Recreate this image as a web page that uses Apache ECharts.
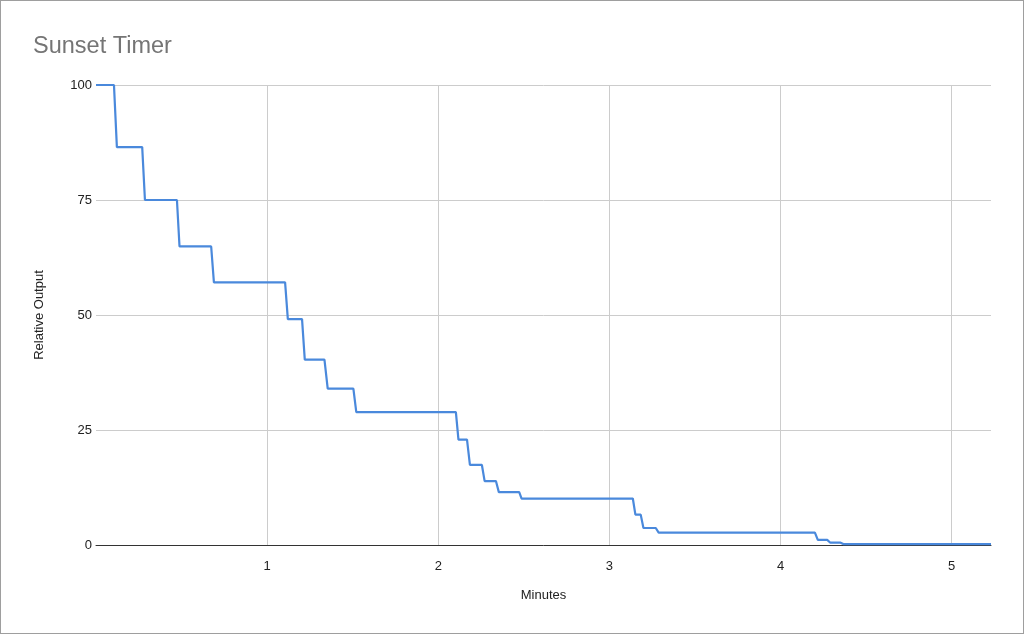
<!DOCTYPE html>
<html>
<head>
<meta charset="utf-8">
<script src="https://cdn.jsdelivr.net/npm/echarts@6/dist/echarts.min.js"></script>
<style>
html,body{margin:0;padding:0;background:#fff;}
#wrap{width:1024px;height:634px;box-sizing:border-box;border:1px solid #9e9e9e;position:relative;overflow:hidden;}
#chart{position:absolute;left:-1px;top:-1px;width:1024px;height:634px;}
</style>
</head>
<body>
<div id="wrap"><div id="chart"></div></div>
<script>
const minutes = [0, 0.105, 0.122, 0.270, 0.286, 0.473, 0.488, 0.673, 0.689, 1.105, 1.121, 1.204, 1.220, 1.335, 1.354, 1.504, 1.521, 2.103, 2.118, 2.168, 2.185, 2.255, 2.271, 2.337, 2.354, 2.473, 2.487, 3.137, 3.152, 3.183, 3.199, 3.271, 3.288, 4.201, 4.218, 4.273, 4.291, 4.351, 4.367, 5.23];
const relativeOutput = [100, 100, 86.5, 86.5, 75, 75, 64.9, 64.9, 57.1, 57.1, 49.1, 49.1, 40.3, 40.3, 34, 34, 28.9, 28.9, 22.9, 22.9, 17.4, 17.4, 13.9, 13.9, 11.5, 11.5, 10.1, 10.1, 6.6, 6.6, 3.7, 3.7, 2.7, 2.7, 1.1, 1.1, 0.5, 0.5, 0.2, 0.2];
const yTicks = [0, 25, 50, 75, 100];
const xTicks = [1, 2, 3, 4, 5];

const chart = echarts.init(document.getElementById('chart'), null, {renderer: 'canvas'});
const font = '"Liberation Sans", Arial, sans-serif';
chart.setOption({
  animation: false,
  backgroundColor: '#ffffff',
  title: {
    text: 'Sunset Timer',
    left: 28, top: 30,
    textStyle: {fontFamily: font, fontSize: 23.5, fontWeight: 'normal', color: '#757575'}
  },
  grid: {left: 96, right: 33, top: 85, bottom: 89, containLabel: false},
  xAxis: {
    type: 'value',
    min: 0, max: 5.23, interval: 1,
    name: 'Minutes', nameLocation: 'middle', nameGap: 44,
    nameTextStyle: {fontFamily: font, fontSize: 13, color: '#222'},
    axisLine: {show: true, onZero: false, lineStyle: {color: '#333', width: 1}},
    axisTick: {show: false},
    axisLabel: {
      fontFamily: font, fontSize: 13, color: '#222', margin: 15,
      showMaxLabel: false, showMinLabel: false,
      formatter: v => (xTicks.indexOf(v) >= 0 ? String(v) : '')
    },
    splitLine: {show: false}
  },
  yAxis: {
    type: 'value',
    min: 0, max: 100, interval: 25,
    name: 'Relative Output', nameLocation: 'middle', nameGap: 50, nameRotate: 90,
    nameTextStyle: {fontFamily: font, fontSize: 13, color: '#222'},
    axisLine: {show: false},
    axisTick: {show: false},
    axisLabel: {fontFamily: font, fontSize: 13, color: '#222', margin: 4,
      formatter: v => (yTicks.indexOf(v) >= 0 ? String(v) : '')},
    splitLine: {show: true, lineStyle: {color: '#cccccc', width: 1}}
  },
  series: [{
    type: 'line',
    data: [],
    silent: true,
    markLine: {
      silent: true,
      symbol: 'none',
      label: {show: false},
      lineStyle: {color: '#cccccc', width: 1, type: 'solid'},
      data: xTicks.map(v => ({xAxis: v}))
    }
  }, {
    type: 'line',
    data: minutes.map((m, i) => [m, relativeOutput[i]]),
    showSymbol: false,
    lineStyle: {color: '#4a89dc', width: 2.2},
    itemStyle: {color: '#4a89dc'},
    clip: false,
    z: 5
  }]
});
</script>
</body>
</html>
